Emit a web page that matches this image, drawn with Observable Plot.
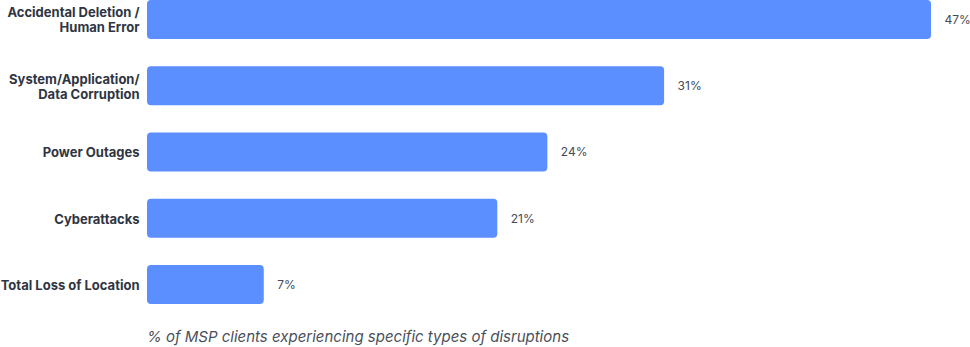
<!DOCTYPE html>
<html>
<head>
<meta charset="utf-8">
<script src="https://cdn.jsdelivr.net/npm/d3@7"></script>
<script src="https://cdn.jsdelivr.net/npm/@observablehq/plot@0.6"></script>
<style>
  body { margin: 0; background: #fff; font-family: Inter, "Noto Sans", sans-serif; }
  #chart { width: 970px; }
  .caption { margin-left: 147px; padding-top: 7px; line-height: 20px; font-size: 15px; font-style: italic; color: #4a4f5a; font-family: Inter, sans-serif; }
</style>
</head>
<body>
<div id="chart"></div>
<script>
const categories = [
  "Accidental Deletion /\nHuman Error",
  "System/Application/\nData Corruption",
  "Power Outages",
  "Cyberattacks",
  "Total Loss of Location"
];
const values = [47, 31, 24, 21, 7];
const caption = "% of MSP clients experiencing specific types of disruptions";

const data = categories.map((c, i) => ({category: c, value: values[i]}));

const plot = Plot.plot({
  width: 970,
  height: 320,
  marginLeft: 147,
  marginRight: 39,
  marginTop: 0,
  marginBottom: 16,
  style: {fontFamily: "Inter, sans-serif", background: "#fff"},
  x: {domain: [0, 47], axis: null},
  y: {domain: categories, paddingInner: 0.41, paddingOuter: 0, round: false, label: null},
  marks: [
    Plot.barX(data, {x: "value", y: "category", fill: "#5b8eff", rx: 4}),
    Plot.text(data, {x: "value", y: "category", text: d => d.value + "%", textAnchor: "start", dx: 13, fill: "#454a55", fontSize: 12, fontFamily: "Inter, sans-serif"}),
    Plot.axisY({tickSize: 0, tickPadding: 8, fontSize: 13, fontWeight: 700, fill: "#2f3542", lineHeight: 1.15, fontFamily: "Inter, sans-serif", label: null})
  ]
});
document.getElementById("chart").appendChild(plot);
const cap = document.createElement("div");
cap.className = "caption";
cap.textContent = caption;
document.getElementById("chart").appendChild(cap);
</script>
</body>
</html>
